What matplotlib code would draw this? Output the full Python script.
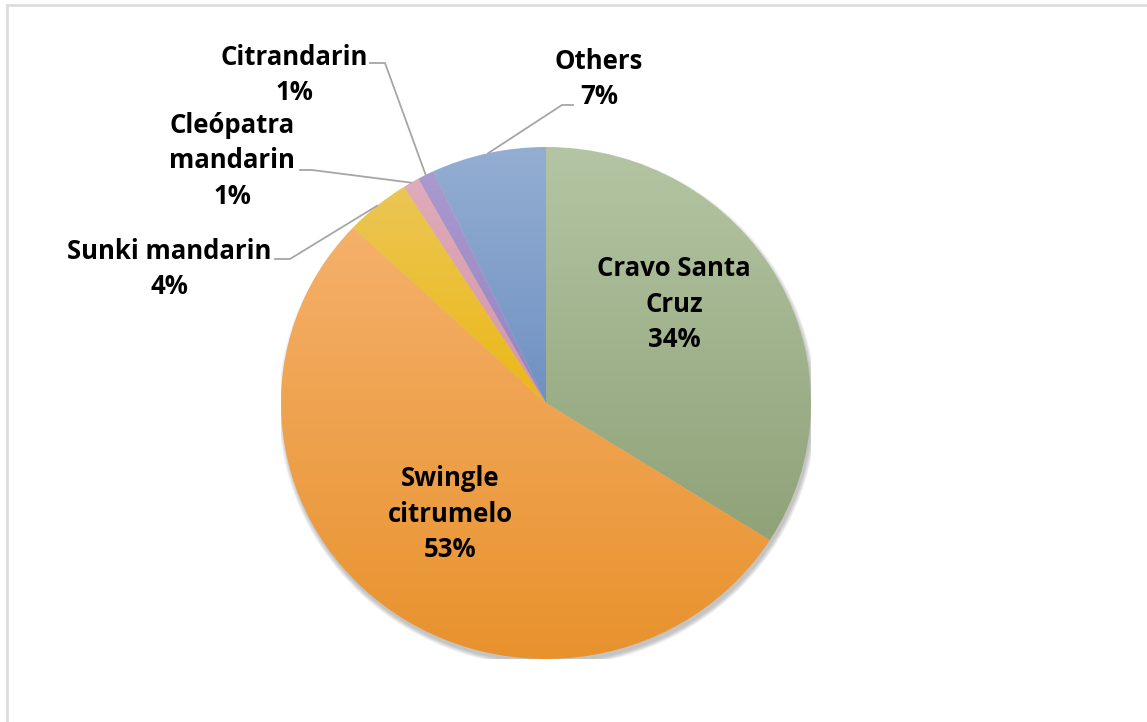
import numpy as np
import matplotlib
matplotlib.use('Agg')
import matplotlib.pyplot as plt
from matplotlib.patches import Ellipse
from matplotlib.colors import to_rgb

# dados do grafico
nomes = ['Cravo Santa\nCruz', 'Swingle\ncitrumelo', 'Sunki mandarin',
         'Cleópatra\nmandarin', 'Citrandarin', 'Others']
valores = [34, 53, 4, 1, 1, 7]
cor_topo = ['#b4c5a3', '#f5b06a', '#ebc655', '#e0abba', '#aa9acf', '#94aed2']
cor_base = ['#8fa278', '#e8922d', '#ecb815', '#d396a9', '#9581c0', '#6f91c2']

W, H = 1147, 722
CX, CY, RX, RY = 546, 403, 265, 256   # pizza em pixels


def px2d(px, py):
    # pixel -> coordenadas do eixo
    return (px - CX) / RX, (CY - py) / RY


fig = plt.figure(figsize=(W / 100, H / 100), dpi=100)
ax = fig.add_axes([(CX - RX) / W, (H - CY - RY) / H, 2 * RX / W, 2 * RY / H])

# sombra borrada (varias elipses transparentes)
for k in range(6):
    ax.add_patch(Ellipse((0.006, -0.016), 2.0 + 0.006 * k, 2.0 + 0.006 * k,
                         color='#606060', alpha=0.07, lw=0, zorder=0))

wedges, _ = ax.pie(valores, startangle=90, counterclock=False, radius=1,
                   wedgeprops=dict(linewidth=0))

# gradiente vertical em cada fatia
for w, c1, c2 in zip(wedges, cor_topo, cor_base):
    v = w.get_path().vertices
    y0, y1 = v[:, 1].min(), v[:, 1].max()
    x0, x1 = v[:, 0].min(), v[:, 0].max()
    t = np.linspace(0, 1, 100)[:, None]
    grad = (1 - t) * np.array(to_rgb(c1)) + t * np.array(to_rgb(c2))
    grad = grad[:, None, :].repeat(2, axis=1)
    im = ax.imshow(grad, extent=[x0, x1, y0, y1], origin='upper',
                   aspect='auto', zorder=1, interpolation='bilinear')
    im.set_clip_path(w)
    w.set_facecolor('none')

ax.set_xlim(-1, 1)
ax.set_ylim(-1, 1)
ax.set_aspect('auto')
ax.axis('off')

fonte = dict(family=['Open Sans', 'DejaVu Sans'], fontsize=18.5, fontweight='bold',
             color='black', ha='center', va='center', linespacing=1.4)

# rotulos: centro do bloco em pixels
pos_rotulo = [(674, 304), (450, 514), (169, 269), (232, 161), (294, 75), (599, 79)]
# cotovelo da linha guia (pixel inicial, pixel final); None = rotulo dentro
guias = [None, None, ((275, 259), (290, 259)), ((300, 170), (312, 170)),
         ((370, 63), (385, 63)), ((573, 105), (562, 105))]

for w, nome, val, p, g in zip(wedges, nomes, valores, pos_rotulo, guias):
    ax.text(*px2d(*p), f'{nome}\n{val}%', **fonte)
    if g is not None:
        ang = np.deg2rad((w.theta1 + w.theta2) / 2)
        ex, ey = np.cos(ang), np.sin(ang)
        a, b = px2d(*g[0]), px2d(*g[1])
        ax.plot([a[0], b[0], ex], [a[1], b[1], ey], color='#a6a6a6',
                lw=1.3, zorder=3, clip_on=False)

# moldura cinza (topo e esquerda)
fig.add_artist(plt.Line2D([6.5 / W, 1], [1 - 5 / H, 1 - 5 / H],
                          color='#dadada', lw=1.8, transform=fig.transFigure))
fig.add_artist(plt.Line2D([6.5 / W, 6.5 / W], [0, 1 - 5 / H],
                          color='#dadada', lw=1.8, transform=fig.transFigure))

fig.savefig('out.png', dpi=100)
